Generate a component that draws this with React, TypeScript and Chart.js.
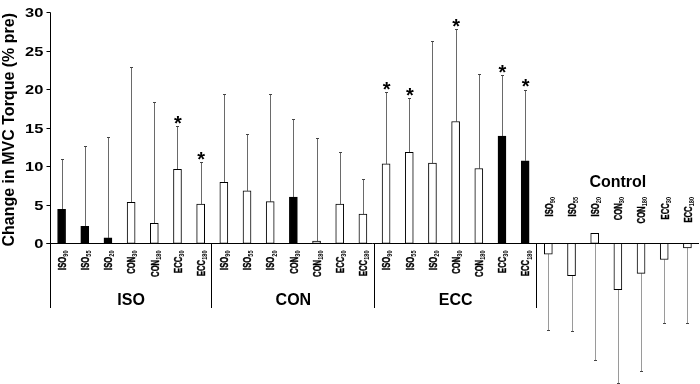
import React, { useEffect, useRef } from 'react';
import { Chart, registerables } from 'chart.js';

Chart.register(...registerables);

// ---- data ----
const groups = ['ISO', 'CON', 'ECC', 'Control'];
const testModes = ['ISO', 'ISO', 'ISO', 'CON', 'CON', 'ECC', 'ECC'];
const testSpeeds = ['90', '55', '20', '30', '180', '30', '180'];

const isoMeans = [4.4, 2.2, 0.7, 5.3, 2.6, 9.6, 5.1];
const isoSD = [6.5, 10.4, 13.1, 17.6, 15.7, 5.6, 5.4];
const conMeans = [7.9, 6.8, 5.4, 6.0, 0.3, 5.1, 3.8];
const conSD = [11.4, 7.4, 13.9, 10.1, 13.3, 6.7, 4.5];
const eccMeans = [10.3, 11.8, 10.4, 15.8, 9.7, 13.9, 10.7];
const eccSD = [9.3, 7.0, 15.9, 12.0, 12.3, 7.9, 9.2];
const controlMeans = [-1.4, -4.2, 1.3, -6.0, -3.9, -2.1, -0.6];
const controlSD = [9.8, 7.2, 16.4, 12.1, 12.6, 8.2, 9.7];

const isoSig = [false, false, false, false, false, true, true];
const conSig = [false, false, false, false, false, false, false];
const eccSig = [true, true, false, true, false, true, true];
const controlSig = [false, false, false, false, false, false, false];

const isoTrained = [true, true, true, false, false, false, false];
const conTrained = [false, false, false, true, false, false, false];
const eccTrained = [false, false, false, false, false, true, true];
const controlTrained = [false, false, false, false, false, false, false];

const yTicks = [0, 5, 10, 15, 20, 25, 30];
const yTitle = 'Change in MVC Torque (% pre)';

// ---- derived tables ----
const groupMeans = [isoMeans, conMeans, eccMeans, controlMeans];
const groupSD = [isoSD, conSD, eccSD, controlSD];
const groupSig = [isoSig, conSig, eccSig, controlSig];
const groupTrained = [isoTrained, conTrained, eccTrained, controlTrained];

const labels = groups.flatMap((g) => testModes.map((m, i) => `${g} ${m}${testSpeeds[i]}`));
const values = groupMeans.flat();
const colors = groupTrained.flat().map((t) => (t ? '#000000' : '#ffffff'));

const FONT = '"Liberation Sans", Arial, Helvetica, sans-serif';
const NT = testModes.length;

function drawRotLabel(ctx: CanvasRenderingContext2D, main: string, sub: string, cx: number, topY: number) {
  const f = 7.7;
  const fs = 5.6;
  const sx = 1.3;
  ctx.save();
  ctx.font = `bold ${f}px ${FONT}`;
  const wm = ctx.measureText(main).width;
  ctx.font = `bold ${fs}px ${FONT}`;
  const ws = ctx.measureText(sub).width;
  const total = wm + ws;
  const capH = 0.716 * f;
  const X = cx + 0.7 + (capH * sx) / 2;
  ctx.translate(X, topY);
  ctx.scale(sx, 1);
  ctx.rotate(-Math.PI / 2);
  ctx.fillStyle = '#000';
  ctx.strokeStyle = '#000';
  ctx.lineWidth = 0.3;
  ctx.textAlign = 'left';
  ctx.textBaseline = 'alphabetic';
  ctx.font = `bold ${f}px ${FONT}`;
  ctx.fillText(main, -total, 0);
  ctx.strokeText(main, -total, 0);
  ctx.font = `bold ${fs}px ${FONT}`;
  ctx.fillText(sub, -ws, 1.6);
  ctx.restore();
}

const overlay = {
  id: 'overlay',
  beforeDatasetsDraw(chart: any) {
    const ctx: CanvasRenderingContext2D = chart.ctx;
    const ys = chart.scales.y;
    const meta = chart.getDatasetMeta(0);
    ctx.save();
    meta.data.forEach((el: any, i: number) => {
      const g = Math.floor(i / NT);
      const k = i % NT;
      const mean = groupMeans[g][k];
      const sd = groupSD[g][k];
      const dir = groups[g] === 'Control' ? -1 : 1;
      const x = Math.round(el.x) + 0.5;
      const y0 = ys.getPixelForValue(mean);
      const y1 = Math.round(ys.getPixelForValue(mean + dir * sd)) + 0.5;
      ctx.strokeStyle = groups[g] === 'Control' ? '#9a9a9a' : '#6a6a6a';
      ctx.lineWidth = 1;
      ctx.beginPath();
      ctx.moveTo(x, y0);
      ctx.lineTo(x, y1);
      ctx.stroke();
      ctx.strokeStyle = '#444';
      ctx.beginPath();
      ctx.moveTo(x - 1.5, y1);
      ctx.lineTo(x + 1.5, y1);
      ctx.stroke();
    });
    ctx.restore();
  },
  afterDatasetsDraw(chart: any) {
    const ctx: CanvasRenderingContext2D = chart.ctx;
    const ys = chart.scales.y;
    const xs = chart.scales.x;
    const area = chart.chartArea;
    const meta = chart.getDatasetMeta(0);
    const zeroY = Math.round(ys.getPixelForValue(0)) + 0.5;
    const topY = ys.getPixelForValue(yTicks[yTicks.length - 1]);
    const axisX = Math.round(area.left) + 0.5;
    const sepBottom = 308;

    ctx.save();
    ctx.strokeStyle = '#000';
    ctx.lineWidth = 1;
    // x axis
    ctx.beginPath();
    ctx.moveTo(axisX - 4, zeroY);
    ctx.lineTo(area.right, zeroY);
    ctx.stroke();
    // y axis + left separator
    ctx.beginPath();
    ctx.moveTo(axisX, Math.round(topY) + 0.5);
    ctx.lineTo(axisX, sepBottom);
    ctx.stroke();
    // group separators (below axis)
    for (let g = 1; g < groups.length; g++) {
      const sx = Math.round(xs.getPixelForValue(g * NT - 0.5)) - 0.5;
      ctx.beginPath();
      ctx.moveTo(sx, zeroY);
      ctx.lineTo(sx, sepBottom);
      ctx.stroke();
    }
    // y ticks
    yTicks.forEach((t) => {
      const y = Math.round(ys.getPixelForValue(t)) + 0.5;
      ctx.beginPath();
      ctx.moveTo(axisX - 4, y);
      ctx.lineTo(axisX, y);
      ctx.stroke();
      ctx.save();
      ctx.translate(axisX - 7.2, y + 0.6);
      ctx.scale(1.22, 1);
      ctx.font = `bold 13.5px ${FONT}`;
      ctx.fillStyle = '#000';
      ctx.textAlign = 'right';
      ctx.textBaseline = 'middle';
      ctx.fillText(String(t), 0, 0);
      ctx.restore();
    });
    // y title
    ctx.save();
    ctx.translate(13.6, (topY + zeroY) / 2 + 2);
    ctx.rotate(-Math.PI / 2);
    ctx.font = `bold 16px ${FONT}`;
    ctx.fillStyle = '#000';
    ctx.textAlign = 'center';
    ctx.textBaseline = 'alphabetic';
    ctx.fillText(yTitle, 0, 0);
    ctx.restore();

    // category labels, stars
    meta.data.forEach((el: any, i: number) => {
      const g = Math.floor(i / NT);
      const k = i % NT;
      const isControl = groups[g] === 'Control';
      drawRotLabel(ctx, testModes[k], testSpeeds[k], el.x, isControl ? 197 : 250.5);
      if (groupSig[g][k]) {
        const capY = ys.getPixelForValue(groupMeans[g][k] + groupSD[g][k]);
        ctx.save();
        ctx.font = `bold 20px ${FONT}`;
        ctx.fillStyle = '#000';
        ctx.textAlign = 'center';
        ctx.textBaseline = 'alphabetic';
        ctx.fillText('*', el.x + 0.5, capY + 3.6);
        ctx.restore();
      }
    });

    // group labels
    groups.forEach((g, gi) => {
      const cx = xs.getPixelForValue(gi * NT + (NT - 1) / 2);
      ctx.save();
      ctx.font = `bold 16px ${FONT}`;
      ctx.fillStyle = '#000';
      ctx.textAlign = 'center';
      ctx.textBaseline = 'alphabetic';
      ctx.fillText(g, cx, g === 'Control' ? 187 : 305);
      ctx.restore();
    });
    ctx.restore();
  },
};

export default function App() {
  const ref = useRef<HTMLCanvasElement | null>(null);
  useEffect(() => {
    if (!ref.current) return;
    const chart = new Chart(ref.current, {
      type: 'bar',
      data: {
        labels,
        datasets: [
          {
            data: values,
            backgroundColor: colors,
            borderColor: '#000000',
            borderWidth: 1,
            borderSkipped: false,
            barThickness: 8,
          },
        ],
      },
      options: {
        animation: false,
        responsive: false,
        devicePixelRatio: 1,
        layout: { padding: { left: 50, top: 12, right: 1, bottom: 0 } },
        plugins: { legend: { display: false }, tooltip: { enabled: false } },
        scales: {
          x: { display: false },
          y: { display: false, min: -18.25, max: 30 },
        },
      },
      plugins: [overlay],
    } as any);
    return () => chart.destroy();
  }, []);
  return (
    <div style={{ position: 'absolute', left: 0, top: 0, width: 700, height: 384, background: '#fff' }}>
      <canvas ref={ref} width={700} height={384} style={{ display: 'block' }} />
    </div>
  );
}
